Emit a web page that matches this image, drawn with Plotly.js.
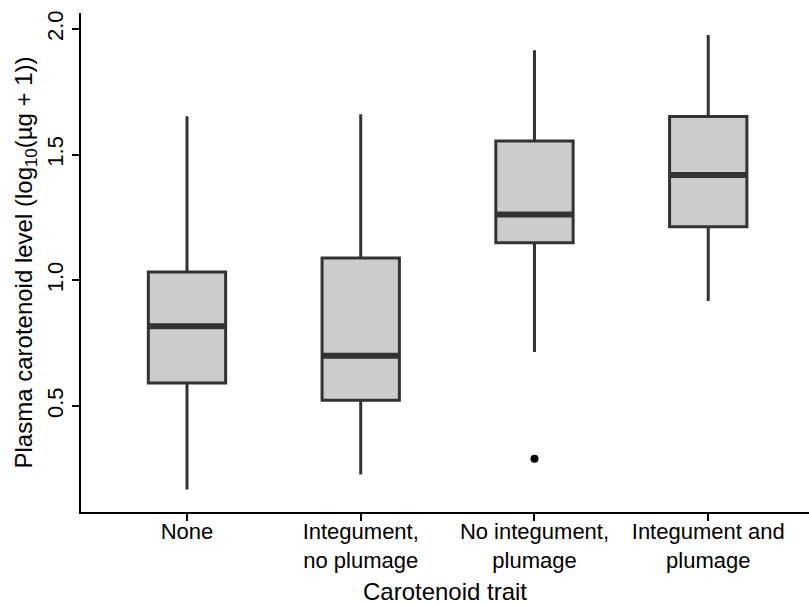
<!DOCTYPE html>
<html>
<head>
<meta charset="utf-8">
<script src="https://cdn.plot.ly/plotly-3.0.1.min.js"></script>
<style>html,body{margin:0;padding:0;background:#fff;}#chart{width:809px;height:605px;}</style>
</head>
<body>
<div id="chart"></div>
<script>
// Data
const categories = ["None", "Integument,<br>no plumage", "No integument,<br>plumage", "Integument and<br>plumage"];
const lowerWhisker = [0.168, 0.227, 0.715, 0.918];
const q1Values     = [0.591, 0.523, 1.150, 1.213];
const medianValues = [0.817, 0.700, 1.262, 1.419];
const q3Values     = [1.033, 1.089, 1.555, 1.652];
const upperWhisker = [1.653, 1.661, 1.916, 1.976];
const outlierCategory = [2];
const outlierValues   = [0.29];
const yTickVals = [0.5, 1.0, 1.5, 2.0];
const yTickText = ["0.5", "1.0", "1.5", "2.0"];

const positions = categories.map((c, i) => i);
const boxWidth = 0.445;
const FONT = "Liberation Sans, Arial, sans-serif";

const boxTrace = {
  type: "box",
  x: positions,
  q1: q1Values,
  median: medianValues,
  q3: q3Values,
  lowerfence: lowerWhisker,
  upperfence: upperWhisker,
  width: boxWidth,
  whiskerwidth: 0,
  boxpoints: false,
  fillcolor: "#cccccc",
  line: {color: "#333333", width: 3},
  hoverinfo: "skip",
  showlegend: false
};

const outlierTrace = {
  type: "scatter",
  mode: "markers",
  x: outlierCategory,
  y: outlierValues,
  marker: {color: "#000000", size: 8},
  hoverinfo: "skip",
  showlegend: false
};

const medianShapes = positions.map((p, i) => ({
  type: "line",
  xref: "x", yref: "y",
  x0: p - boxWidth / 2, x1: p + boxWidth / 2,
  y0: medianValues[i], y1: medianValues[i],
  line: {color: "#333333", width: 6}
}));

const layout = {
  width: 809, height: 605,
  margin: {l: 81, r: 0, t: 13, b: 93},
  paper_bgcolor: "#ffffff",
  plot_bgcolor: "#ffffff",
  font: {family: FONT, size: 22, color: "#000000"},
  showlegend: false,
  shapes: medianShapes,
  xaxis: {
    range: [-0.61, 3.58],
    tickmode: "array",
    tickvals: positions,
    ticktext: categories,
    ticks: "outside", ticklen: 7, tickwidth: 2, tickcolor: "#000",
    ticklabelstandoff: -8,
    showline: true, linecolor: "#000", linewidth: 2,
    showgrid: false, zeroline: false,
    tickfont: {family: FONT, size: 22, color: "#000"},
    title: {text: "Carotenoid trait", font: {family: FONT, size: 24, color: "#000"}, standoff: 13}
  },
  yaxis: {
    range: [0.078, 2.064],
    tickmode: "array",
    tickvals: yTickVals,
    ticktext: yTickText,
    tickangle: -90,
    ticks: "outside", ticklen: 7, tickwidth: 2, tickcolor: "#000",
    showline: true, linecolor: "#000", linewidth: 2,
    showgrid: false, zeroline: false,
    tickfont: {family: FONT, size: 22, color: "#000"},
    title: {text: "Plasma carotenoid level (log<sub>10</sub>(µg + 1))", font: {family: FONT, size: 24, color: "#000"}, standoff: 4}
  }
};

Plotly.newPlot("chart", [boxTrace, outlierTrace], layout, {displayModeBar: false, staticPlot: true});
</script>
</body>
</html>
